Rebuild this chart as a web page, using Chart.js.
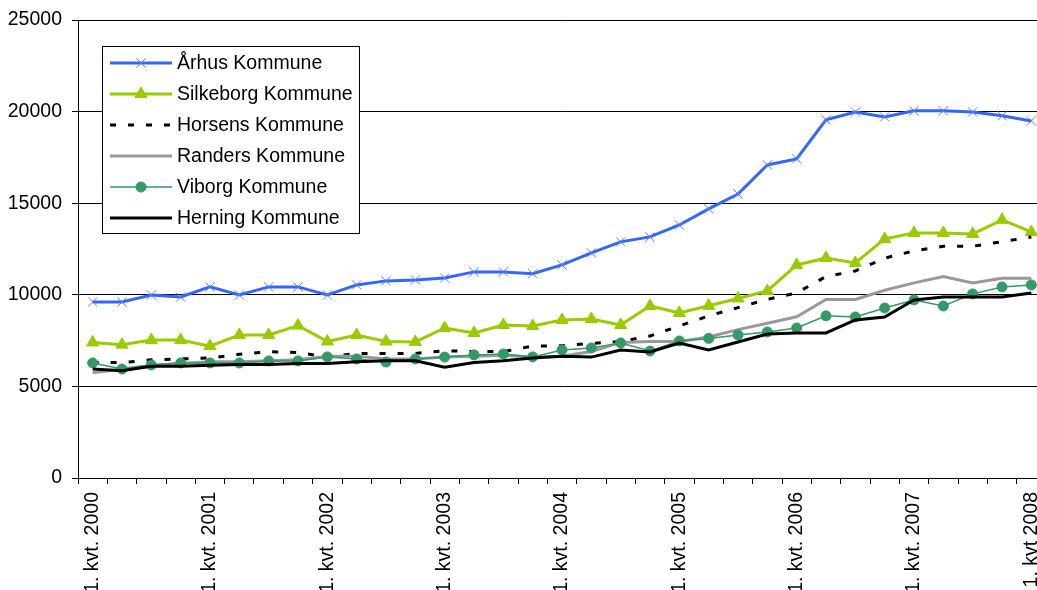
<!DOCTYPE html>
<html><head><meta charset="utf-8">
<script src="https://cdn.jsdelivr.net/npm/chart.js@4/dist/chart.umd.min.js"></script>
<style>
html,body{margin:0;padding:0;overflow:hidden;background:#fff;width:1037px;height:590px}
#wrap{position:relative;width:1054px;height:590px}
</style></head>
<body><div id="wrap"><canvas id="c" width="1054" height="590"></canvas></div>
<script>
const categories = [
 "1. kvt. 2000","2. kvt. 2000","3. kvt. 2000","4. kvt. 2000",
 "1. kvt. 2001","2. kvt. 2001","3. kvt. 2001","4. kvt. 2001",
 "1. kvt. 2002","2. kvt. 2002","3. kvt. 2002","4. kvt. 2002",
 "1. kvt. 2003","2. kvt. 2003","3. kvt. 2003","4. kvt. 2003",
 "1. kvt. 2004","2. kvt. 2004","3. kvt. 2004","4. kvt. 2004",
 "1. kvt. 2005","2. kvt. 2005","3. kvt. 2005","4. kvt. 2005",
 "1. kvt. 2006","2. kvt. 2006","3. kvt. 2006","4. kvt. 2006",
 "1. kvt. 2007","2. kvt. 2007","3. kvt. 2007","4. kvt. 2007",
 "1. kvt 2008"
];
const seriesNames = ["Århus Kommune","Silkeborg Kommune","Horsens Kommune","Randers Kommune","Viborg Kommune","Herning Kommune"];
const aarhus    = [9610,9610,9990,9880,10430,9990,10430,10430,9990,10540,10760,10810,10920,11250,11250,11150,11630,12290,12890,13160,13810,14690,15500,17090,17420,19550,19980,19710,20040,20040,19980,19770,19490];
const silkeborg = [7400,7280,7530,7530,7200,7810,7810,8320,7450,7810,7450,7430,8190,7920,8350,8300,8630,8680,8350,9390,9010,9400,9800,10210,11630,12010,11740,13050,13380,13380,13320,14090,13430];
const horsens   = [6300,6300,6450,6500,6550,6750,6900,6850,6600,6800,6800,6800,6950,6900,6900,7200,7220,7350,7450,7750,8300,8850,9300,9750,10100,11000,11300,12000,12400,12650,12650,12900,13150];
const randers   = [5750,5950,6150,6250,6350,6350,6400,6450,6650,6650,6500,6500,6600,6650,6700,6600,6650,6900,7400,7450,7450,7700,8100,8450,8800,9750,9750,10250,10650,11000,10650,10900,10900];
const viborg    = [6280,5950,6170,6280,6280,6280,6390,6390,6610,6500,6330,6500,6600,6720,6770,6610,6990,7100,7370,6930,7480,7620,7810,7970,8190,8850,8790,9280,9720,9390,10050,10430,10540];
const herning   = [5950,5850,6100,6100,6150,6200,6200,6250,6250,6350,6400,6400,6050,6300,6400,6550,6650,6600,6990,6880,7370,6990,7420,7860,7920,7920,8630,8790,9720,9880,9880,9880,10100];
const yTicks = [0,5000,10000,15000,20000,25000];
const labelEvery = 4;

const FONT = "'Liberation Sans', Arial, sans-serif";
const FSIZE = 19.5;

const datasets = [
 {label:seriesNames[0], data:aarhus, borderColor:'#3366FF', borderWidth:3, pointStyle:'crossRot', pointRadius:6.5, pointBorderColor:'#5A80FF', pointBackgroundColor:'#5A80FF', pointBorderWidth:1, order:5},
 {label:seriesNames[1], data:silkeborg, borderColor:'#99CC00', borderWidth:3, pointStyle:'triangle', pointRadius:7, pointBorderColor:'#99CC00', pointBackgroundColor:'#99CC00', pointBorderWidth:1, order:4},
 {label:seriesNames[2], data:horsens, borderColor:'#000000', borderWidth:3, borderDash:[6,12], pointRadius:0, order:3},
 {label:seriesNames[3], data:randers, borderColor:'#999999', borderWidth:3, pointRadius:0, order:2},
 {label:seriesNames[4], data:viborg, borderColor:'#339966', borderWidth:1.5, pointStyle:'circle', pointRadius:5, pointBorderColor:'#339966', pointBackgroundColor:'#339966', pointBorderWidth:1, order:1},
 {label:seriesNames[5], data:herning, borderColor:'#000000', borderWidth:3, pointRadius:0, order:0}
];
datasets.forEach(d => { d.tension = 0; d.fill = false; d.borderCapStyle = 'butt'; });

function drawMarker(ctx, d, x, y) {
  if (!d.pointRadius) return;
  const r = d.pointRadius;
  ctx.save();
  ctx.setLineDash([]);
  ctx.lineWidth = d.pointBorderWidth || 1;
  ctx.strokeStyle = d.pointBorderColor;
  ctx.fillStyle = d.pointBackgroundColor;
  ctx.beginPath();
  if (d.pointStyle === 'crossRot') {
    const o = r * Math.SQRT1_2;
    ctx.moveTo(x-o,y-o); ctx.lineTo(x+o,y+o);
    ctx.moveTo(x+o,y-o); ctx.lineTo(x-o,y+o);
    ctx.stroke();
  } else if (d.pointStyle === 'triangle') {
    ctx.moveTo(x, y - r);
    ctx.lineTo(x + r*Math.sin(Math.PI*2/3), y - r*Math.cos(Math.PI*2/3));
    ctx.lineTo(x - r*Math.sin(Math.PI*2/3), y - r*Math.cos(Math.PI*2/3));
    ctx.closePath(); ctx.fill(); ctx.stroke();
  } else {
    ctx.arc(x, y, r, 0, Math.PI*2); ctx.fill(); ctx.stroke();
  }
  ctx.restore();
}

const boxLegend = {
  id: 'boxLegend',
  afterDraw(chart) {
    const ctx = chart.ctx;
    const x0 = 102.5, y0 = 46.5, w = 257, h = 187;
    ctx.save();
    ctx.fillStyle = '#fff';
    ctx.fillRect(x0, y0, w, h);
    ctx.strokeStyle = '#000'; ctx.lineWidth = 1; ctx.setLineDash([]);
    ctx.strokeRect(x0, y0, w, h);
    ctx.font = FSIZE + 'px ' + FONT;
    ctx.textBaseline = 'middle'; ctx.textAlign = 'left';
    chart.data.datasets.forEach((d, i) => {
      const y = 63 + 31*i;
      ctx.save();
      ctx.strokeStyle = d.borderColor; ctx.lineWidth = d.borderWidth;
      ctx.setLineDash(d.borderDash || []);
      ctx.lineCap = 'butt';
      ctx.beginPath(); ctx.moveTo(110, y); ctx.lineTo(172, y); ctx.stroke();
      ctx.restore();
      drawMarker(ctx, d, 141, y);
      ctx.fillStyle = '#000';
      ctx.fillText(d.label, 177, y + 1);
    });
    ctx.restore();
  }
};

new Chart(document.getElementById('c'), {
  type: 'line',
  data: { labels: categories, datasets },
  plugins: [boxLegend],
  options: {
    responsive: false, animation: false, devicePixelRatio: 1,
    layout: { padding: { top: 20, right: 0, left: 0, bottom: 0 } },
    plugins: { legend: { display: false }, tooltip: { enabled: false } },
    scales: {
      x: {
        type: 'category', offset: true,
        grid: { offset: true, drawOnChartArea: false, drawTicks: true, tickLength: 6, color: '#000', lineWidth: 1 },
        border: { display: true, color: '#000', width: 1 },
        ticks: { autoSkip: false, minRotation: 90, maxRotation: 90, padding: 8, color: '#000',
          font: { family: FONT, size: FSIZE },
          callback: (v, i) => (i % labelEvery === 0 ? categories[i] : '') },
        afterFit: s => { s.height = 112; s.paddingLeft = 0; s.paddingRight = 0; }
      },
      y: {
        min: 0, max: 25000,
        afterBuildTicks: s => { s.ticks = yTicks.map(v => ({ value: v })); },
        grid: { color: '#000', lineWidth: 1, drawTicks: true, tickLength: 6 },
        border: { display: true, color: '#000', width: 1 },
        ticks: { padding: 10, color: '#000', font: { family: FONT, size: FSIZE },
          callback: v => String(v) },
        afterFit: s => { s.width = 78; s.paddingTop = 0; s.paddingBottom = 0; }
      }
    }
  }
});
</script>
</body></html>
